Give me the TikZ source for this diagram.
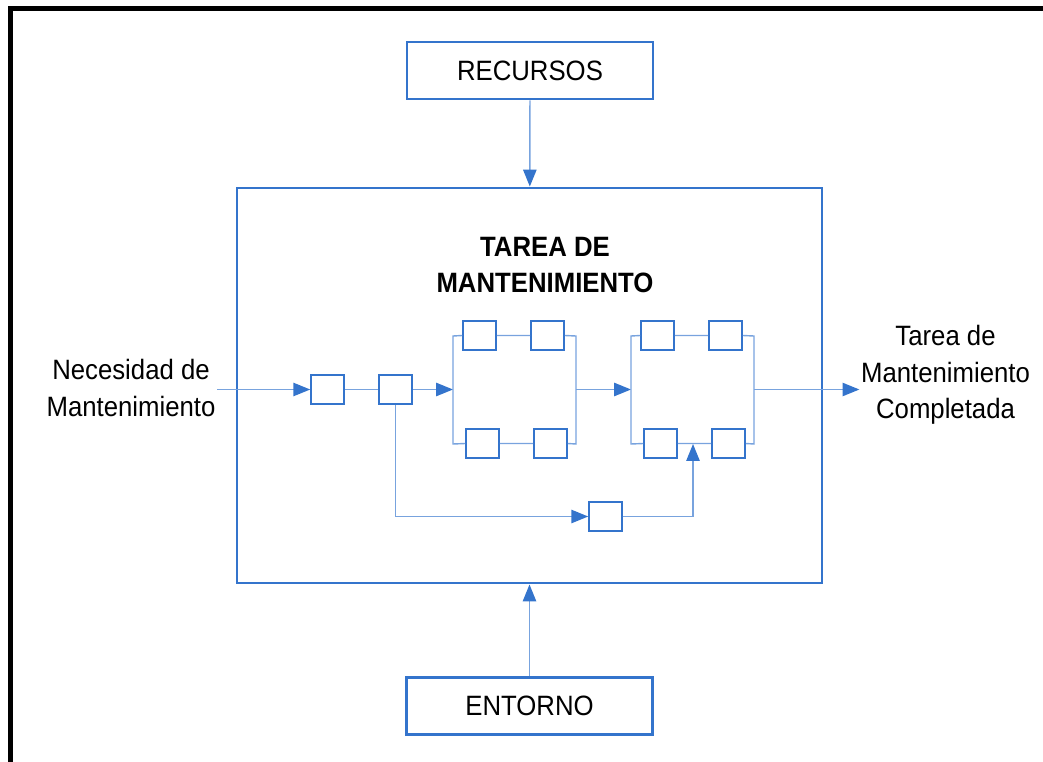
\documentclass[tikz,border=0pt]{standalone}
\usepackage{fontspec}
\setmainfont{Liberation Sans}[FakeStretch=0.92]
\usetikzlibrary{shapes,arrows.meta,positioning}
\definecolor{boxblue}{RGB}{52,116,204}
\definecolor{lineblue}{RGB}{120,163,222}
\tikzset{
	txt/.style={font=\fontsize{19.9}{26}\selectfont,align=center,inner sep=1pt},
	bigbox/.style={txt,draw=boxblue,line width=2pt,minimum width=6.15cm,minimum height=1.425cm},
	cell/.style={draw=boxblue,line width=1.1pt,fill=white,minimum width=0.825cm,minimum height=0.725cm,inner sep=0pt},
	link/.style={draw=lineblue,line width=1pt},
	arrow/.style={link,-{Triangle[length=12pt,width=9.5pt,color=boxblue]}}
}
\begin{document}
\begin{tikzpicture}[x=0.025cm,y=-0.025cm]
				\useasboundingbox (0,0) rectangle (1043,761);
				\draw[line width=3.6pt] (10.5,800) -- (10.5,8.5) -- (1100,8.5);
				\node[bigbox] (recursos) at (530,70.5) {RECURSOS};
				\node[bigbox] (entorno) at (529.5,706) {ENTORNO};
				\node[draw=boxblue,line width=2pt,minimum width=14.625cm,minimum height=9.875cm] (tarea) at (529.5,385.5) {};
				\node[txt,font=\fontsize{19.9}{26}\selectfont\bfseries] (titulo) at (545,265) {TAREA DE\\MANTENIMIENTO};
				\node[txt] (necesidad) at (131,388) {Necesidad de\\Mantenimiento};
				\node[txt] (completada) at (945.5,375) {Tarea de\\Mantenimiento\\Completada};
				\node[cell] (b1) at (327.5,389.5) {};
				\node[cell] (b2) at (395.5,389.5) {};
				\node[cell] (t1) at (479.5,335.5) {};
				\node[cell] (t2) at (547.5,335.5) {};
				\node[cell] (u1) at (482.5,443.5) {};
				\node[cell] (u2) at (550.5,443.5) {};
				\node[cell] (t3) at (657.5,335.5) {};
				\node[cell] (t4) at (725.5,335.5) {};
				\node[cell] (u3) at (660.5,443.5) {};
				\node[cell] (u4) at (728.5,443.5) {};
				\node[cell] (b5) at (605.5,516.5) {};
				\path (453,336) coordinate (g1a) ;
				\path (453,444) coordinate (g1b) ;
				\path (576,336) coordinate (g1c) ;
				\path (576,444) coordinate (g1d) ;
				\path (453,389.5) coordinate (g1in) ;
				\path (576,389.5) coordinate (g1out) ;
				\path (631,336) coordinate (g2a) ;
				\path (631,444) coordinate (g2b) ;
				\path (754,336) coordinate (g2c) ;
				\path (754,444) coordinate (g2d) ;
				\path (631,389.5) coordinate (g2in) ;
				\path (754,389.5) coordinate (g2out) ;
				\path (693,444) coordinate (g2join) ;
				\draw[arrow] (recursos) -- (tarea);
				\draw[arrow] (entorno) -- (tarea);
				\draw[arrow] (necesidad.east |- b1.west) -- (b1);
				\draw[link] (b1) -- (b2);
				\draw[arrow] (b2) -- (g1in);
				\draw[link] (t1.west) -- (g1a) -- (g1b) -- (u1.west) (t1) -- (t2) (u1) -- (u2);
				\draw[link] (t2.east) -- (g1c) -- (g1d) -- (u2.east);
				\draw[arrow] (g1out) -- (g2in);
				\draw[link] (t3.west) -- (g2a) -- (g2b) -- (u3.west) (t3) -- (t4) (u3) -- (u4);
				\draw[link] (t4.east) -- (g2c) -- (g2d) -- (u4.east);
				\draw[arrow] (g2out) -- (completada.west |- g2out);
				\draw[arrow] (b2) |- (b5);
				\draw[arrow] (b5) -| (g2join);
\end{tikzpicture}
\end{document}
